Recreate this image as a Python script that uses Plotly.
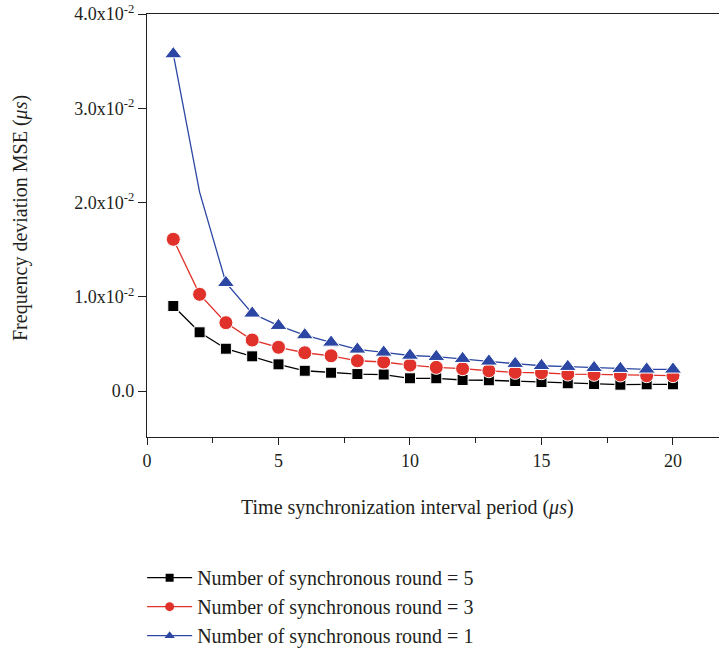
import plotly.graph_objects as go

x_vals = list(range(1, 21))
round5 = [0.00902, 0.00623, 0.00449, 0.00368, 0.00283, 0.00215, 0.00194, 0.00180, 0.00175, 0.00135,
          0.00135, 0.00117, 0.00114, 0.00106, 0.00095, 0.00082, 0.00074, 0.00067, 0.00071, 0.00071]
round3 = [0.01610, 0.01026, 0.00725, 0.00541, 0.00464, 0.00406, 0.00374, 0.00321, 0.00308, 0.00275,
          0.00251, 0.00237, 0.00215, 0.00198, 0.00194, 0.00180, 0.00177, 0.00170, 0.00163, 0.00163]
round1 = [0.03576, 0.02110, 0.01149, 0.00824, 0.00693, 0.00594, 0.00516, 0.00442, 0.00410, 0.00377,
          0.00364, 0.00343, 0.00315, 0.00290, 0.00268, 0.00258, 0.00247, 0.00237, 0.00230, 0.00230]
series_names = ["Number of synchronous round = 5",
                "Number of synchronous round = 3",
                "Number of synchronous round = 1"]
y_tick_vals = [0.0, 0.01, 0.02, 0.03, 0.04]
y_tick_text = ["0.0", "1.0x10<sup>-2</sup>", "2.0x10<sup>-2</sup>", "3.0x10<sup>-2</sup>", "4.0x10<sup>-2</sup>"]
x_tick_vals = [0, 5, 10, 15, 20]

FONT = "Liberation Serif"
TXT = "#231f20"
BLACK = "#000000"
RED = "#e0312a"
BLUE = "#2c47a3"

colors = [BLACK, RED, BLUE]
symbols = ["square", "circle", "triangle-up"]
datasets = [round5, round3, round1]
plot_sizes = [11, 14, 15]
legend_sizes = [8, 9, 9]

fig = go.Figure()
for i in range(3):
    sizes = [plot_sizes[i]] * len(x_vals)
    if i == 2:
        sizes[1] = 0  # no marker drawn at x=2 in the reference
    fig.add_trace(go.Scatter(x=x_vals, y=datasets[i], mode="lines+markers", showlegend=False,
                             line=dict(color=colors[i], width=1.3),
                             marker=dict(symbol=symbols[i], size=sizes, color=colors[i], opacity=1)))
# legend entries (small markers as in the reference)
for i in range(3):
    fig.add_trace(go.Scatter(x=[None], y=[None], mode="lines+markers", name=series_names[i],
                             line=dict(color=colors[i], width=1.3),
                             marker=dict(symbol=symbols[i], size=legend_sizes[i], color=colors[i], opacity=1)))

fig.update_layout(
    width=719, height=652,
    margin=dict(l=147, r=0, t=14, b=215, autoexpand=False),
    paper_bgcolor="white", plot_bgcolor="white",
    font=dict(family=FONT, size=18, color=TXT),
    showlegend=True,
    legend=dict(x=-0.0085, y=-0.2864, xanchor="left", yanchor="top",
                font=dict(family=FONT, size=20, color=TXT),
                tracegroupgap=0, itemsizing="trace", itemwidth=45,
                bgcolor="rgba(0,0,0,0)"),
    xaxis=dict(range=[0, 21.75], showgrid=False, zeroline=False,
               showline=True, linecolor=TXT, linewidth=1.3, mirror=True,
               ticks="outside", ticklen=7, tickwidth=1.2, tickcolor=TXT,
               tickvals=x_tick_vals, tickfont=dict(family=FONT, size=18, color=TXT),
               minor=dict(ticks="outside", ticklen=5, tickwidth=1.2, tickcolor=TXT,
                          tickvals=[2.5, 7.5, 12.5, 17.5])),
    yaxis=dict(range=[-0.00488, 0.04001], showgrid=False, zeroline=False,
               showline=True, linecolor=TXT, linewidth=1.3, mirror=False,
               ticks="outside", ticklen=8, tickwidth=1.2, tickcolor=TXT,
               tickvals=y_tick_vals, ticktext=y_tick_text, ticklabeloverflow="allow",
               tickfont=dict(family=FONT, size=18, color=TXT)),
)

fig.add_annotation(text="Time synchronization interval period (<i>μs</i>)",
                   xref="paper", yref="paper", x=(407 - 147) / 572, y=(437 - 508) / 423,
                   xanchor="center", yanchor="middle", showarrow=False,
                   font=dict(family=FONT, size=20, color=TXT))
fig.add_annotation(text="Frequency deviation MSE (<i>μs</i>)",
                   xref="paper", yref="paper", x=(20 - 147) / 572, y=(437 - 218) / 423,
                   xanchor="center", yanchor="middle", showarrow=False, textangle=-90,
                   font=dict(family=FONT, size=20, color=TXT))

# remove the default 8px page margin so the figure sits at the window's corner
fig.write_html("out.html", config={"displayModeBar": False},
               post_script="document.body.style.margin='0';")
